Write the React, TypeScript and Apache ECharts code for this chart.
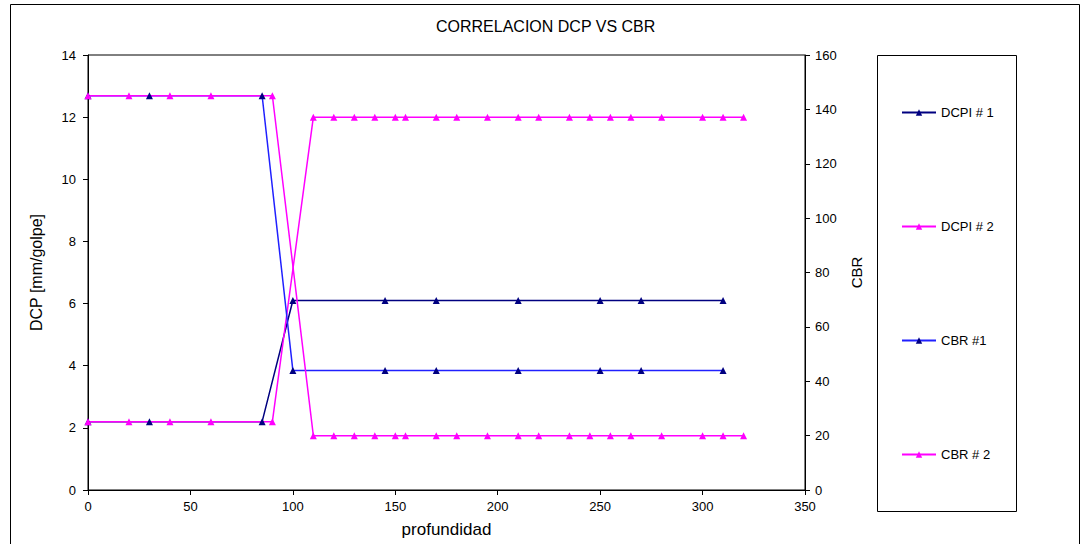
import React, { useEffect, useRef } from "react";
import * as echarts from "echarts";

const xSet1 = [0, 30, 85, 100, 145, 170, 210, 250, 270, 310];
const dcpi1 = [2.2, 2.2, 2.2, 6.1, 6.1, 6.1, 6.1, 6.1, 6.1, 6.1];
const cbr1 = [145, 145, 145, 44, 44, 44, 44, 44, 44, 44];

const xSet2 = [0, 20, 40, 60, 90, 110, 120, 130, 140, 150, 155, 170, 180, 195, 210, 220, 235, 245, 255, 265, 280, 300, 310, 320];
const dcpi2 = [2.2, 2.2, 2.2, 2.2, 2.2, 12, 12, 12, 12, 12, 12, 12, 12, 12, 12, 12, 12, 12, 12, 12, 12, 12, 12, 12];
const cbr2 = [145, 145, 145, 145, 145, 20, 20, 20, 20, 20, 20, 20, 20, 20, 20, 20, 20, 20, 20, 20, 20, 20, 20, 20];

const seriesNames = ["DCPI # 1", "DCPI # 2", "CBR #1", "CBR # 2"];
const titleText = "CORRELACION DCP VS CBR";

const zip = (xs: number[], ys: number[]) => xs.map((x, i) => [x, ys[i]]);

const FONT = "Liberation Sans, Arial, sans-serif";

export default function App() {
  const ref = useRef<HTMLDivElement>(null);
  useEffect(() => {
    if (!ref.current) return;
    const chart = echarts.init(ref.current, undefined, { renderer: "svg" });
    const mk = (name: string, data: number[][], yIdx: number, lineColor: string, markColor: string, lw: number) => ({
      name,
      type: "line",
      yAxisIndex: yIdx,
      data,
      symbol: "triangle",
      symbolSize: 7,
      lineStyle: { color: lineColor, width: lw },
      itemStyle: { color: markColor, borderWidth: 0 },
      color: lineColor,
    });
    chart.setOption({
      animation: false,
      textStyle: { fontFamily: FONT },
      title: {
        text: titleText,
        left: 431,
        top: 13,
        padding: 5,
        textStyle: { fontSize: 16, fontWeight: "normal", color: "#000", fontFamily: FONT },
      },
      grid: {
        left: 88,
        right: 279,
        top: 55,
        bottom: 54,
        show: true,
        borderColor: "#000",
        borderWidth: 1,
        backgroundColor: "transparent",
      },
      legend: {
        orient: "vertical",
        left: 901,
        top: 106,
        padding: 0,
        itemWidth: 34,
        itemHeight: 8,
        itemGap: 101,
        textStyle: { fontSize: 13, color: "#000", fontFamily: FONT },
        data: seriesNames,
      },
      xAxis: {
        type: "value",
        min: 0,
        max: 350,
        interval: 50,
        name: "profundidad",
        nameLocation: "middle",
        nameGap: 31,
        nameTextStyle: { fontSize: 17, color: "#000", fontFamily: FONT },
        axisLine: { lineStyle: { color: "#000" } },
        axisTick: { show: true, length: 5, lineStyle: { color: "#000" } },
        axisLabel: { fontSize: 13, color: "#000", margin: 10, fontFamily: FONT },
        splitLine: { show: false },
      },
      yAxis: [
        {
          type: "value",
          min: 0,
          max: 14,
          interval: 2,
          name: "DCP [mm/golpe]",
          nameLocation: "middle",
          nameRotate: 90,
          nameGap: 44,
          nameTextStyle: { fontSize: 16, color: "#000", fontFamily: FONT },
          axisLine: { show: true, lineStyle: { color: "#000" } },
          axisTick: { show: true, length: 5, lineStyle: { color: "#000" } },
          axisLabel: { fontSize: 13, color: "#000", margin: 12, fontFamily: FONT },
          splitLine: { show: false },
        },
        {
          type: "value",
          min: 0,
          max: 160,
          interval: 20,
          position: "right",
          name: "CBR",
          nameLocation: "middle",
          nameRotate: 90,
          nameGap: 44,
          nameTextStyle: { fontSize: 15, color: "#000", fontFamily: FONT },
          axisLine: { show: true, lineStyle: { color: "#000" } },
          axisTick: { show: true, length: 5, lineStyle: { color: "#000" } },
          axisLabel: { fontSize: 13, color: "#000", margin: 10, fontFamily: FONT },
          splitLine: { show: false },
        },
      ],
      graphic: [
        {
          type: "rect",
          shape: { x: 10.5, y: 4.5, width: 1069, height: 560 },
          style: { fill: "none", stroke: "#000", lineWidth: 1 },
          silent: true,
          z: -10,
        },
        {
          type: "rect",
          shape: { x: 877.5, y: 55.5, width: 139, height: 456 },
          style: { fill: "none", stroke: "#000", lineWidth: 1 },
          silent: true,
          z: -10,
        },
      ],
      series: [
        mk(seriesNames[0], zip(xSet1, dcpi1), 0, "#000080", "#000080", 1.5),
        mk(seriesNames[1], zip(xSet2, dcpi2), 0, "#FF00FF", "#FF00FF", 1.5),
        mk(seriesNames[2], zip(xSet1, cbr1), 1, "#2020FF", "#000080", 1.5),
        mk(seriesNames[3], zip(xSet2, cbr2), 1, "#FF00FF", "#FF00FF", 1.5),
      ],
    });
    return () => chart.dispose();
  }, []);
  return (
    <div
      ref={ref}
      style={{ position: "fixed", left: 0, top: 0, width: 1084, height: 544, background: "#fff" }}
    />
  );
}
